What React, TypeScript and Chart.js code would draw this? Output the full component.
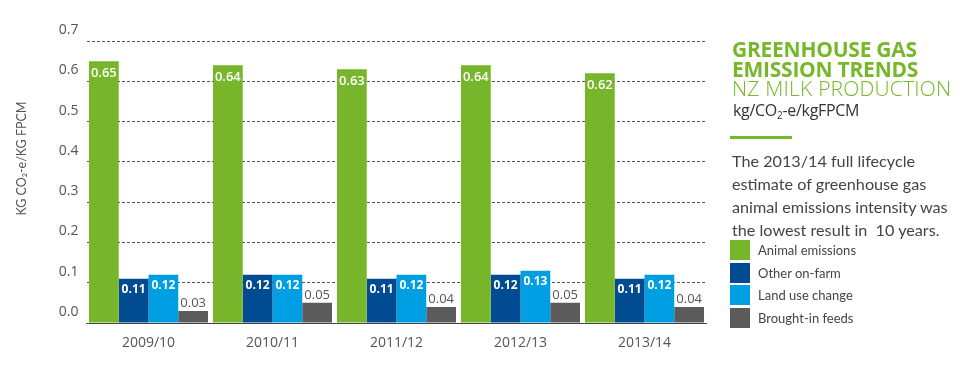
import React, { useEffect, useRef } from 'react';
import { Chart, registerables } from 'chart.js';

Chart.register(...registerables);

const categories = ['2009/10', '2010/11', '2011/12', '2012/13', '2013/14'];
const seriesNames = ['Animal emissions', 'Other on-farm', 'Land use change', 'Brought-in feeds'];
const animalEmissions = [0.65, 0.64, 0.63, 0.64, 0.62];
const otherOnFarm = [0.11, 0.12, 0.11, 0.12, 0.11];
const landUseChange = [0.12, 0.12, 0.12, 0.13, 0.12];
const broughtInFeeds = [0.03, 0.05, 0.04, 0.05, 0.04];
const seriesColors = ['#77B62B', '#004B91', '#009FE3', '#5B5B5B'];
const yMin = 0;
const yMax = 0.7;
const yStep = 0.1;
const yTitle = 'KG CO\u2082-e/KG FPCM';

const titleLines = ['GREENHOUSE GAS', 'EMISSION TRENDS'];
const subTitle = 'NZ MILK PRODUCTION';
const paragraphLines = [
  'The 2013/14 full lifecycle',
  'estimate of greenhouse gas',
  'animal emissions intensity was',
  'the lowest result in  10 years.',
];

const GREEN = '#76B82A';
const FONT = '"Open Sans", Lato, sans-serif';
const LATO = 'Lato, "Open Sans", sans-serif';

const valueLabels = {
  id: 'valueLabels',
  afterDatasetsDraw(chart: any) {
    const ctx = chart.ctx;
    chart.data.datasets.forEach((ds: any, di: number) => {
      const meta = chart.getDatasetMeta(di);
      meta.data.forEach((bar: any, i: number) => {
        const v = ds.data[i] as number;
        const txt = v.toFixed(2);
        ctx.save();
        ctx.textAlign = 'center';
        ctx.textBaseline = 'middle';
        if (di === 3) {
          ctx.fillStyle = '#555';
          ctx.font = `13px ${FONT}`;
          ctx.fillText(txt, bar.x, bar.y - 8);
        } else if (di === 0) {
          ctx.fillStyle = '#fff';
          ctx.font = `600 13px ${FONT}`;
          ctx.fillText(txt, bar.x, bar.y + 12);
        } else {
          ctx.fillStyle = '#fff';
          ctx.font = `700 12px ${FONT}`;
          ctx.fillText(txt, bar.x, bar.y + 11);
        }
        ctx.restore();
      });
    });
    // y axis title
    ctx.save();
    ctx.translate(22, 158.5);
    ctx.rotate(-Math.PI / 2);
    ctx.textAlign = 'center';
    ctx.textBaseline = 'middle';
    ctx.fillStyle = '#555';
    ctx.font = `12.5px ${LATO}`;
    ctx.fillText(yTitle, 0, 0);
    ctx.restore();
  },
};

export default function App() {
  const ref = useRef<HTMLCanvasElement | null>(null);

  useEffect(() => {
    if (!ref.current) return;
    const seriesData = [animalEmissions, otherOnFarm, landUseChange, broughtInFeeds];
    const chart = new Chart(ref.current, {
      type: 'bar',
      data: {
        labels: categories,
        datasets: seriesData.map((d, i) => ({
          label: seriesNames[i],
          data: d,
          backgroundColor: seriesColors[i],
          borderWidth: 0,
          categoryPercentage: 0.96,
          barPercentage: 1.0,
        })),
      },
      options: {
        responsive: false,
        animation: false,
        devicePixelRatio: 1,
        layout: { padding: { top: 41, right: 261.5, left: 0, bottom: 0 } },
        plugins: {
          legend: { display: false },
          tooltip: { enabled: false },
          title: { display: false },
        },
        scales: {
          x: {
            grid: { display: false, drawTicks: false },
            border: { display: true, color: '#444', width: 1 },
            ticks: { color: '#555', font: { family: FONT, size: 14 }, padding: 12 },
            afterFit: (s: any) => { s.height = 52; },
          },
          y: {
            min: yMin,
            max: yMax,
            grid: { color: '#555', drawTicks: false, lineWidth: 1 },
            border: { display: false, dash: [3, 2] },
            ticks: {
              stepSize: yStep,
              color: '#555',
              font: { family: FONT, size: 14 },
              padding: 8,
              labelOffset: -11,
              callback: (v: any) => Number(v).toFixed(1),
            },
            title: { display: false },
            afterFit: (s: any) => { s.width = 86.5; },
          },
        },
      },
      plugins: [valueLabels],
    } as any);
    return () => chart.destroy();
  }, []);

  return (
    <div style={{ position: 'fixed', left: 0, top: 0, width: 968, height: 375, background: '#fff', overflow: 'hidden' }}>
      <canvas ref={ref} width={968} height={375} style={{ position: 'absolute', left: 0, top: 0 }} />
      <div style={{ position: 'absolute', left: 732, top: 40, fontFamily: FONT, color: GREEN, fontWeight: 700, fontSize: 21, lineHeight: '19.5px', whiteSpace: 'nowrap', letterSpacing: -0.25 }}>
        {titleLines.map((t) => <div key={t}>{t}</div>)}
        <div style={{ fontWeight: 300, letterSpacing: 0.2 }}>{subTitle}</div>
      </div>
      <div style={{ position: 'absolute', left: 733, top: 102, fontFamily: FONT, color: '#333', fontSize: 16, lineHeight: '16px', whiteSpace: 'nowrap', letterSpacing: -0.3 }}>
        kg/CO<sub style={{ fontSize: 10, verticalAlign: '-3px' }}>2</sub>-e/kgFPCM
      </div>
      <div style={{ position: 'absolute', left: 730, top: 136, width: 62, height: 3, background: GREEN }} />
      <div style={{ position: 'absolute', left: 732, top: 149, fontFamily: LATO, color: '#444', fontSize: 16.2, lineHeight: '23px', whiteSpace: 'pre' }}>
        {paragraphLines.map((t) => <div key={t}>{t}</div>)}
      </div>
      <div style={{ position: 'absolute', left: 730, top: 239 }}>
        {seriesNames.map((n, i) => (
          <div key={n} style={{ display: 'flex', alignItems: 'center', height: 22.5 }}>
            <div style={{ width: 20, height: 20, background: seriesColors[i] }} />
            <span style={{ marginLeft: 8, fontFamily: LATO, fontSize: 13, color: '#444', whiteSpace: 'nowrap' }}>{n}</span>
          </div>
        ))}
      </div>
    </div>
  );
}
